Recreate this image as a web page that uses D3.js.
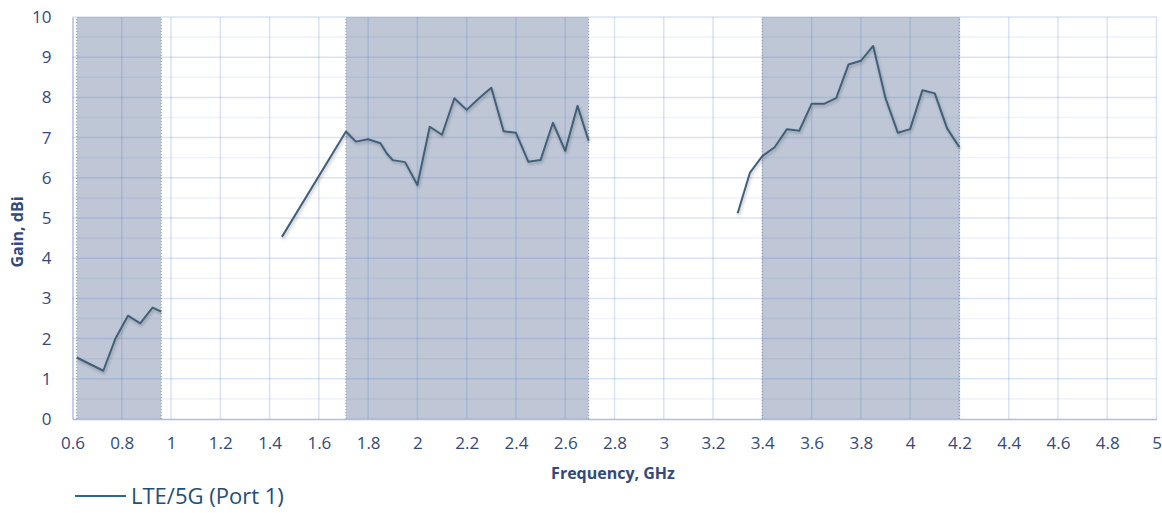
<!DOCTYPE html>
<html>
<head>
<meta charset="utf-8">
<script src="https://cdn.jsdelivr.net/npm/d3@7"></script>
<style>
  body { margin: 0; background: #fff; }
  svg { display: block; }
</style>
</head>
<body>
<svg id="chart" width="1162" height="513"></svg>
<script>
// measured gain of the LTE/5G antenna, three separate sweeps
const freqLow = [0.617, 0.725, 0.775, 0.825, 0.875, 0.925, 0.96]
const gainLow = [1.53, 1.20, 2.01, 2.57, 2.38, 2.77, 2.67]

const freqMid = [1.45, 1.71, 1.75, 1.8, 1.85, 1.875, 1.9, 1.95, 2.0, 2.05, 2.1, 2.15,
  2.2, 2.25, 2.3, 2.35, 2.4, 2.45, 2.5, 2.55, 2.6, 2.65, 2.695]
const gainMid = [4.53, 7.15, 6.90, 6.96, 6.86, 6.61, 6.44, 6.39, 5.82, 7.27, 7.07, 7.98,
  7.69, 7.98, 8.24, 7.16, 7.12, 6.40, 6.44, 7.37, 6.67, 7.79, 6.92]

const freqHigh = [3.3, 3.35, 3.4, 3.45, 3.5, 3.55, 3.6, 3.65, 3.7, 3.75, 3.8, 3.85,
  3.9, 3.95, 4.0, 4.05, 4.1, 4.15, 4.2]
const gainHigh = [5.12, 6.13, 6.54, 6.76, 7.21, 7.17, 7.84, 7.84, 7.98, 8.82, 8.91, 9.28,
  7.98, 7.12, 7.21, 8.18, 8.10, 7.23, 6.76]

// shaded operating bands
const bandStart = [0.617, 1.71, 3.4]
const bandEnd = [0.96, 2.695, 4.2]

const xTicks = [0.6, 0.8, 1, 1.2, 1.4, 1.6, 1.8, 2, 2.2, 2.4, 2.6, 2.8, 3, 3.2, 3.4,
  3.6, 3.8, 4, 4.2, 4.4, 4.6, 4.8, 5]
const yTicks = [0, 1, 2, 3, 4, 5, 6, 7, 8, 9, 10]
const yMinor = [0.5, 1.5, 2.5, 3.5, 4.5, 5.5, 6.5, 7.5, 8.5, 9.5]

const seriesName = 'LTE/5G (Port 1)'

const svg = d3.select('#chart')
const font = "'Open Sans', sans-serif"

const x = d3.scaleLinear().domain([0.6, 5]).range([72.5, 1156.5])
const y = d3.scaleLinear().domain([0, 10]).range([419, 17])

// shadow under the line, like the spreadsheet original
const defs = svg.append('defs')
defs.append('filter')
  .attr('id', 'shadow')
  .attr('x', '-5%').attr('y', '-5%').attr('width', '110%').attr('height', '120%')
  .append('feDropShadow')
  .attr('dx', 1).attr('dy', 2).attr('stdDeviation', 1.4)
  .attr('flood-color', '#000').attr('flood-opacity', 0.25)

// bands
const bands = bandStart.map((s, i) => ({ s, e: bandEnd[i] }))
svg.append('g').selectAll('rect')
  .data(bands)
  .join('rect')
  .attr('x', (d) => x(d.s))
  .attr('y', y(10))
  .attr('width', (d) => x(d.e) - x(d.s))
  .attr('height', y(0) - y(10))
  .attr('fill', '#bfc7d7')

// gridlines drawn over the bands so they darken inside them
const grid = svg.append('g')
grid.selectAll('.minor')
  .data(yMinor)
  .join('line')
  .attr('class', 'minor')
  .attr('x1', x(0.6)).attr('x2', x(5))
  .attr('y1', (d) => y(d)).attr('y2', (d) => y(d))
  .attr('stroke', 'rgba(68,114,196,0.09)')
  .attr('stroke-width', 1.5)

grid.selectAll('.hmajor')
  .data(yTicks.slice(1))
  .join('line')
  .attr('class', 'hmajor')
  .attr('x1', x(0.6)).attr('x2', x(5))
  .attr('y1', (d) => y(d)).attr('y2', (d) => y(d))
  .attr('stroke', 'rgba(68,114,196,0.2)')
  .attr('stroke-width', 1.5)

grid.selectAll('.vmajor')
  .data(xTicks.slice(1))
  .join('line')
  .attr('class', 'vmajor')
  .attr('x1', (d) => x(d)).attr('x2', (d) => x(d))
  .attr('y1', y(0)).attr('y2', y(10))
  .attr('stroke', 'rgba(68,114,196,0.2)')
  .attr('stroke-width', 1.5)

// dotted band edges
svg.append('g').selectAll('line')
  .data(bandStart.concat(bandEnd))
  .join('line')
  .attr('x1', (d) => x(d)).attr('x2', (d) => x(d))
  .attr('y1', y(0)).attr('y2', y(10))
  .attr('stroke', '#8f96a3')
  .attr('stroke-width', 1)
  .attr('stroke-dasharray', '1,2')

// axes
const xAxis = svg.append('g')
  .attr('transform', `translate(0,${y(0)})`)
  .call(d3.axisBottom(x).tickValues(xTicks).tickSize(0).tickPadding(18).tickFormat(d3.format('~g')))
const yAxis = svg.append('g')
  .attr('transform', `translate(${x(0.6)},0)`)
  .call(d3.axisLeft(y).tickValues(yTicks).tickSize(0).tickPadding(21).tickFormat(d3.format('~g')))

for (const ax of [xAxis, yAxis]) {
  ax.select('.domain').attr('stroke', 'rgba(68,114,196,0.45)').attr('stroke-width', 1.5)
  ax.selectAll('text')
    .attr('fill', '#34497a')
    .style('font-family', font)
    .style('font-size', '17px')
}

// the measured line
const line = d3.line()
  .x((d) => x(d[0]))
  .y((d) => y(d[1]))

const segments = [
  freqLow.map((f, i) => [f, gainLow[i]]),
  freqMid.map((f, i) => [f, gainMid[i]]),
  freqHigh.map((f, i) => [f, gainHigh[i]])
]

svg.append('g').selectAll('path')
  .data(segments)
  .join('path')
  .attr('d', line)
  .attr('fill', 'none')
  .attr('stroke', '#40607a')
  .attr('stroke-width', 2)
  .attr('stroke-linejoin', 'round')
  .attr('filter', 'url(#shadow)')

// axis titles
svg.append('text')
  .attr('x', 613).attr('y', 479)
  .attr('text-anchor', 'middle')
  .attr('fill', '#34497a')
  .style('font-family', font)
  .style('font-weight', 'bold')
  .style('font-size', '16px')
  .text('Frequency, GHz')

svg.append('text')
  .attr('transform', 'translate(23,232) rotate(-90)')
  .attr('text-anchor', 'middle')
  .attr('fill', '#34497a')
  .style('font-family', font)
  .style('font-weight', 'bold')
  .style('font-size', '16px')
  .text('Gain, dBi')

// legend
const legend = svg.append('g').attr('transform', 'translate(75,496)')
legend.append('line')
  .attr('x1', 0).attr('x2', 51)
  .attr('stroke', '#2b6b8a')
  .attr('stroke-width', 2)
legend.append('text')
  .attr('x', 56).attr('y', 8)
  .attr('fill', '#1f4e79')
  .style('font-family', font)
  .style('font-size', '22px')
  .text(seriesName)
</script>
</body>
</html>
